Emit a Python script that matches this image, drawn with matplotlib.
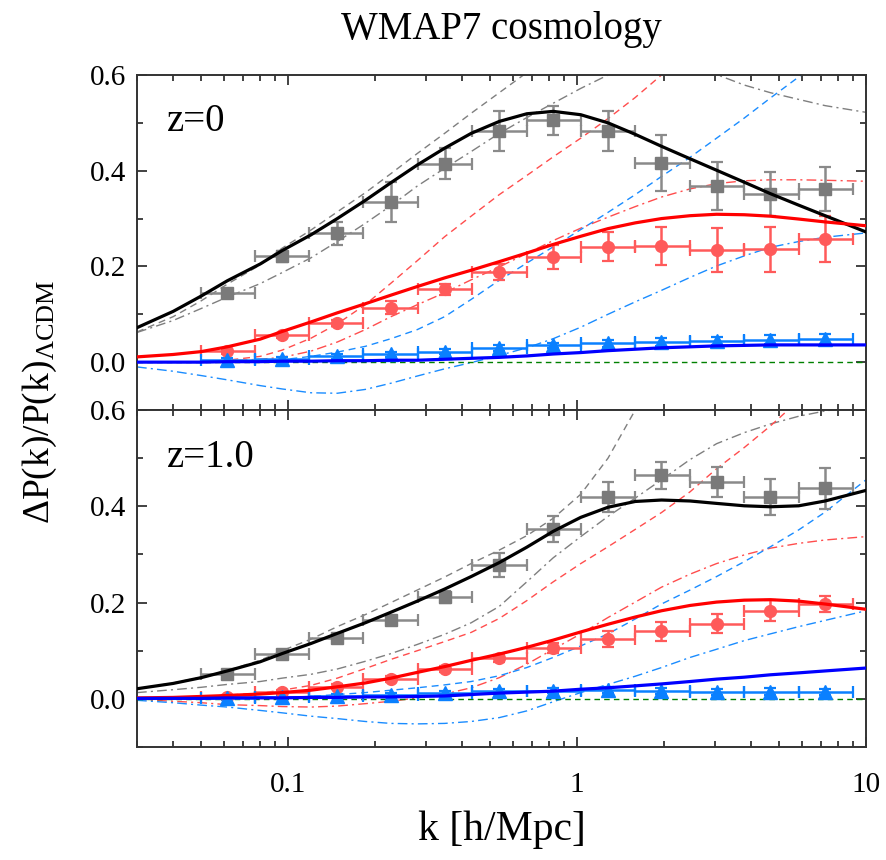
import numpy as np
import matplotlib
matplotlib.use("Agg")
import matplotlib.pyplot as plt
from matplotlib.ticker import FixedLocator, NullFormatter, FixedFormatter

plt.rcParams['font.family'] = ['Liberation Serif', 'DejaVu Serif']
plt.rcParams['mathtext.fontset'] = 'custom'
plt.rcParams['mathtext.rm'] = 'Liberation Serif'
plt.rcParams['mathtext.it'] = 'Liberation Serif:italic'

# ---------------- data: binned points ----------------
k_bin = [0.0616, 0.0953, 0.148, 0.227, 0.348, 0.538, 0.827, 1.28, 1.96, 3.04, 4.67, 7.22]
k_lo = [0.0500, 0.0767, 0.118, 0.182, 0.281, 0.434, 0.669, 1.03, 1.59, 2.46, 3.79, 5.85]
k_hi = [0.0767, 0.118, 0.182, 0.281, 0.434, 0.669, 1.03, 1.59, 2.46, 3.79, 5.85, 9.00]

z0_gray_y = [0.144, 0.221, 0.269, 0.335, 0.415, 0.483, 0.505, 0.483, 0.416, 0.368, 0.352, 0.362]
z0_gray_err = [0.005, 0.012, 0.024, 0.042, 0.032, 0.042, 0.031, 0.041, 0.058, 0.050, 0.046, 0.046]
z0_red_y = [0.023, 0.056, 0.082, 0.114, 0.152, 0.188, 0.219, 0.241, 0.243, 0.234, 0.236, 0.257]
z0_red_err = [0.005, 0.005, 0.006, 0.013, 0.012, 0.017, 0.025, 0.030, 0.039, 0.046, 0.047, 0.048]
z0_blue_y = [0.004, 0.007, 0.012, 0.016, 0.022, 0.029, 0.035, 0.039, 0.042, 0.044, 0.047, 0.048]
z0_blue_err = [0.004, 0.004, 0.005, 0.005, 0.005, 0.006, 0.006, 0.007, 0.008, 0.008, 0.009, 0.010]

z1_gray_y = [0.051, 0.094, 0.126, 0.163, 0.212, 0.278, 0.352, 0.419, 0.464, 0.450, 0.419, 0.437]
z1_gray_err = [0.005, 0.006, 0.007, 0.010, 0.012, 0.024, 0.027, 0.031, 0.028, 0.031, 0.038, 0.043]
z1_red_y = [0.004, 0.015, 0.025, 0.042, 0.062, 0.084, 0.105, 0.124, 0.140, 0.156, 0.183, 0.197]
z1_red_err = [0.004, 0.004, 0.005, 0.006, 0.007, 0.008, 0.010, 0.016, 0.020, 0.020, 0.022, 0.016]
z1_blue_y = [0.002, 0.004, 0.006, 0.008, 0.012, 0.016, 0.017, 0.019, 0.016, 0.015, 0.015, 0.014]
z1_blue_err = [0.004, 0.004, 0.004, 0.004, 0.005, 0.005, 0.005, 0.006, 0.006, 0.006, 0.007, 0.007]

# ---------------- data: model curves ----------------
k_grid = [0.03, 0.04, 0.05, 0.0616, 0.08, 0.0953, 0.12, 0.148, 0.185, 0.227, 0.28, 0.348, 0.43,
          0.538, 0.67, 0.827, 1.03, 1.28, 1.59, 1.96, 2.46, 3.04, 3.79, 4.67, 5.85, 7.22, 10.0]

# z = 0
z0_black = [0.072, 0.106, 0.138, 0.170, 0.205, 0.233, 0.266, 0.300, 0.338, 0.375, 0.412, 0.447, 0.478,
            0.503, 0.519, 0.524, 0.517, 0.500, 0.476, 0.451, 0.425, 0.401, 0.376, 0.352, 0.328, 0.306, 0.272]
z0_red = [0.011, 0.016, 0.022, 0.032, 0.048, 0.064, 0.084, 0.103, 0.122, 0.140, 0.158, 0.176, 0.192,
          0.210, 0.228, 0.246, 0.263, 0.279, 0.291, 0.300, 0.306, 0.309, 0.308, 0.305, 0.299, 0.293, 0.285]
z0_blue = [0.000, 0.000, 0.000, 0.001, 0.001, 0.002, 0.002, 0.003, 0.003, 0.004, 0.004, 0.006, 0.008,
           0.010, 0.013, 0.017, 0.020, 0.024, 0.027, 0.030, 0.032, 0.034, 0.035, 0.036, 0.036, 0.036, 0.036]
z0_gray_dash = [0.063, 0.095, 0.128, 0.163, 0.203, 0.238, 0.276, 0.314, 0.354, 0.394, 0.436, 0.478, 0.520,
                0.563, 0.605, 0.648, 0.690, 0.735, 0.780, 0.825, 0.870, 0.915, 0.960, 1.000, 1.040, 1.080, 1.120]
z0_gray_dd = [0.062, 0.087, 0.112, 0.136, 0.164, 0.187, 0.218, 0.252, 0.290, 0.327, 0.368, 0.405, 0.440,
              0.478, 0.511, 0.541, 0.572, 0.600, 0.625, 0.640, 0.630, 0.601, 0.579, 0.563, 0.549, 0.536, 0.522]
z0_red_dash = [0.000, 0.000, 0.001, 0.004, 0.012, 0.025, 0.050, 0.080, 0.120, 0.165, 0.212, 0.262, 0.305,
               0.350, 0.390, 0.429, 0.468, 0.509, 0.553, 0.600, 0.650, 0.700, 0.750, 0.800, 0.850, 0.900, 0.950]
z0_red_dd = [0.000, 0.000, 0.001, 0.003, 0.006, 0.010, 0.023, 0.042, 0.068, 0.095, 0.120, 0.145, 0.172,
             0.199, 0.227, 0.254, 0.280, 0.303, 0.325, 0.345, 0.362, 0.373, 0.379, 0.381, 0.381, 0.380, 0.378]
z0_blue_dash = [0.000, 0.000, 0.000, 0.000, 0.002, 0.005, 0.012, 0.021, 0.033, 0.049, 0.068, 0.095, 0.131,
                0.171, 0.207, 0.241, 0.277, 0.313, 0.350, 0.388, 0.428, 0.468, 0.510, 0.552, 0.596, 0.640, 0.700]
z0_blue_dd = [-0.010, -0.019, -0.028, -0.037, -0.049, -0.056, -0.064, -0.065, -0.057, -0.044, -0.029, -0.014, -0.001,
              0.014, 0.030, 0.049, 0.073, 0.100, 0.126, 0.150, 0.177, 0.201, 0.222, 0.240, 0.252, 0.261, 0.270]

# z = 1
z1_black = [0.021, 0.032, 0.044, 0.058, 0.077, 0.094, 0.115, 0.136, 0.158, 0.180, 0.203, 0.228, 0.254,
            0.283, 0.315, 0.348, 0.377, 0.398, 0.410, 0.413, 0.411, 0.406, 0.401, 0.399, 0.401, 0.411, 0.433]
z1_red = [0.002, 0.003, 0.005, 0.007, 0.010, 0.013, 0.018, 0.025, 0.033, 0.043, 0.055, 0.067, 0.080,
          0.093, 0.107, 0.122, 0.139, 0.155, 0.170, 0.183, 0.194, 0.201, 0.205, 0.206, 0.203, 0.197, 0.186]
z1_blue = [0.001, 0.001, 0.001, 0.002, 0.002, 0.002, 0.003, 0.003, 0.004, 0.004, 0.005, 0.006, 0.009,
           0.012, 0.014, 0.016, 0.020, 0.023, 0.027, 0.031, 0.036, 0.041, 0.045, 0.050, 0.054, 0.058, 0.064]
z1_gray_dash = [0.021, 0.033, 0.045, 0.059, 0.080, 0.100, 0.124, 0.150, 0.175, 0.200, 0.226, 0.253, 0.281,
                0.309, 0.339, 0.375, 0.425, 0.500, 0.600, 0.700, 0.800, 0.900, 1.000, 1.100, 1.200, 1.300, 1.400]
z1_gray_dd = [0.013, 0.019, 0.024, 0.030, 0.036, 0.043, 0.051, 0.062, 0.078, 0.094, 0.113, 0.134, 0.158,
              0.192, 0.243, 0.293, 0.337, 0.379, 0.417, 0.455, 0.497, 0.530, 0.553, 0.571, 0.587, 0.598, 0.610]
z1_red_dash = [0.002, 0.003, 0.005, 0.008, 0.012, 0.018, 0.028, 0.043, 0.063, 0.082, 0.100, 0.119, 0.138,
               0.167, 0.204, 0.243, 0.281, 0.316, 0.352, 0.387, 0.430, 0.478, 0.522, 0.567, 0.620, 0.680, 0.760]
z1_red_dd = [-0.001, -0.005, -0.008, -0.012, -0.014, -0.016, -0.017, -0.015, -0.010, -0.005, 0.002, 0.010, 0.023,
             0.044, 0.072, 0.103, 0.135, 0.169, 0.201, 0.232, 0.259, 0.281, 0.299, 0.313, 0.323, 0.330, 0.337]
z1_blue_dash = [0.000, 0.000, 0.000, 0.001, 0.002, 0.003, 0.005, 0.009, 0.013, 0.018, 0.023, 0.029, 0.036,
                0.048, 0.065, 0.086, 0.110, 0.135, 0.166, 0.197, 0.226, 0.254, 0.285, 0.316, 0.351, 0.388, 0.455]
z1_blue_dd = [-0.003, -0.008, -0.013, -0.017, -0.024, -0.029, -0.036, -0.041, -0.047, -0.051, -0.052, -0.051, -0.047,
              -0.039, -0.025, -0.006, 0.013, 0.030, 0.047, 0.065, 0.086, 0.103, 0.121, 0.135, 0.150, 0.163, 0.183]

panel_labels = ['z=0', 'z=1.0']
x_tick_vals = [0.1, 1, 10]
x_tick_labels = ['0.1', '1', '10']
y_tick_vals = [0.0, 0.2, 0.4, 0.6]
y_tick_labels = ['0.0', '0.2', '0.4', '0.6']

# ---------------- styles ----------------
GRAY = '#7f7f7f'
GRAY_PT = '#7a7a7a'
RED_THIN = '#ff4d4d'
RED_PT = '#ff5a5a'
BLUE_THIN = '#1a8cff'
BLUE_PT = '#0a80ff'
DASH = (5, 3.5)
DASHDOT = (7, 3, 1.5, 3)

fig = plt.figure(figsize=(8.86, 8.60), dpi=100)
W, H = 886.0, 860.0
left, right = 137 / W, 866 / W
ax_top = fig.add_axes([left, 1 - 410 / H, right - left, (410 - 75) / H])
ax_bot = fig.add_axes([left, 1 - 747 / H, right - left, (747 - 410) / H])

panels = [
    (ax_top, z0_black, z0_red, z0_blue, z0_gray_dash, z0_gray_dd, z0_red_dash, z0_red_dd,
     z0_blue_dash, z0_blue_dd, z0_gray_y, z0_gray_err, z0_red_y, z0_red_err, z0_blue_y, z0_blue_err),
    (ax_bot, z1_black, z1_red, z1_blue, z1_gray_dash, z1_gray_dd, z1_red_dash, z1_red_dd,
     z1_blue_dash, z1_blue_dd, z1_gray_y, z1_gray_err, z1_red_y, z1_red_err, z1_blue_y, z1_blue_err),
]

kb = np.array(k_bin)
xerr = [kb - np.array(k_lo), np.array(k_hi) - kb]

for i, (ax, blk, red, blu, gd, gdd, rd, rdd, bd, bdd, gy, ge, ry, re, by, be) in enumerate(panels):
    ax.set_xscale('log')
    # thin model lines
    ax.plot(k_grid, gd, color=GRAY, lw=1.0, dashes=DASH, zorder=2)
    ax.plot(k_grid, gdd, color=GRAY, lw=1.0, dashes=DASHDOT, zorder=2)
    ax.plot(k_grid, rd, color=RED_THIN, lw=1.0, dashes=DASH, zorder=2)
    ax.plot(k_grid, rdd, color=RED_THIN, lw=1.0, dashes=DASHDOT, zorder=2)
    ax.plot(k_grid, bd, color=BLUE_THIN, lw=1.0, dashes=DASH, zorder=2)
    ax.plot(k_grid, bdd, color=BLUE_THIN, lw=1.0, dashes=DASHDOT, zorder=2)
    ax.axhline(0.0, color='#008000', lw=1.0, dashes=(4, 3), zorder=2)

    # data points
    ax.errorbar(k_bin, gy, yerr=ge, xerr=xerr, fmt='s', color=GRAY_PT, ecolor='#8a8a8a',
                ms=8, elinewidth=1.8, capsize=4.5, capthick=1.6, zorder=3)
    ax.errorbar(k_bin, ry, yerr=re, xerr=xerr, fmt='o', color=RED_PT, ecolor=RED_PT,
                ms=8.5, elinewidth=1.8, capsize=4.5, capthick=1.6, zorder=3)
    ax.errorbar(k_bin, by, yerr=be, xerr=xerr, fmt='^', color=BLUE_PT, ecolor=BLUE_PT,
                ms=9.5, elinewidth=1.8, capsize=4.5, capthick=1.6, zorder=3)

    # thick model lines
    ax.plot(k_grid, blk, color='black', lw=2.3, zorder=4, solid_joinstyle='round')
    ax.plot(k_grid, red, color='#ff0000', lw=2.3, zorder=4, solid_joinstyle='round')
    ax.plot(k_grid, blu, color='#0000ff', lw=2.3, zorder=4, solid_joinstyle='round')

    ax.set_xlim(0.03, 10)
    ax.set_ylim(-0.1, 0.6)
    ax.xaxis.set_major_locator(FixedLocator(x_tick_vals))
    ax.xaxis.set_minor_locator(FixedLocator(
        [m * 10.0 ** e for e in (-2, -1, 0) for m in range(2, 10) if 0.03 <= m * 10.0 ** e <= 10]))
    ax.xaxis.set_minor_formatter(NullFormatter())
    ax.yaxis.set_major_locator(FixedLocator(y_tick_vals))
    ax.yaxis.set_major_formatter(FixedFormatter(y_tick_labels))
    ax.yaxis.set_minor_locator(FixedLocator([-0.1, 0.1, 0.3, 0.5]))
    ax.tick_params(which='both', direction='in', top=True, right=True, width=1.2, color='#222222')
    ax.tick_params(which='major', length=7.5)
    ax.tick_params(which='minor', length=4)
    ax.tick_params(axis='y', labelsize=21, pad=8)
    ax.tick_params(axis='x', labelsize=21, pad=18)
    for sp in ax.spines.values():
        sp.set_linewidth(1.4)
        sp.set_color('#333333')
    ax.text(0.041, 0.86, panel_labels[i], transform=ax.transAxes, fontsize=28, ha='left', va='center')

ax_top.xaxis.set_major_formatter(NullFormatter())
ax_bot.xaxis.set_major_formatter(FixedFormatter(x_tick_labels))

fig.text((137 + 866) / 2 / W, 1 - 30 / H, 'WMAP7 cosmology', fontsize=28, ha='center', va='center')
fig.text((137 + 866) / 2 / W, 1 - 830 / H, 'k [h/Mpc]', fontsize=30, ha='center', va='center')
fig.text(40 / W, 1 - 402 / H, r'ΔP(k)/P(k)$_{\mathrm{ΛCDM}}$', fontsize=27, rotation=90,
         ha='center', va='center')

fig.savefig('out.png', dpi=100)
